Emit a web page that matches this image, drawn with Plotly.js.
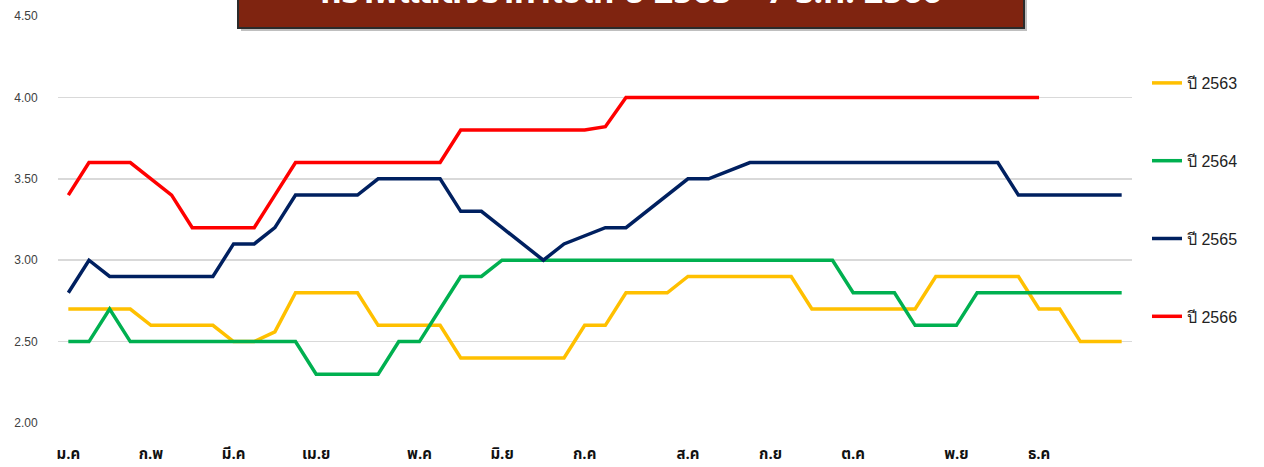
<!DOCTYPE html>
<html>
<head>
<meta charset="utf-8">
<script src="https://cdn.plot.ly/plotly-3.0.1.min.js"></script>
<style>html,body{margin:0;padding:0;background:#fff;}#chart{width:1264px;height:467px;}</style>
</head>
<body>
<div id="chart"></div>
<script>
// week index (category positions)
const weeks = [0,1,2,3,4,5,6,7,8,9,10,11,12,13,14,15,16,17,18,19,20,21,22,23,24,25,26,27,28,29,30,31,32,33,34,35,36,37,38,39,40,41,42,43,44,45,46,47,48,49,50,51];
const monthTickIdx = [0,4,8,12,17,21,25,30,34,38,43,47];
const monthLabels = ["ม.ค","ก.พ","มี.ค","เม.ย","พ.ค","มิ.ย","ก.ค","ส.ค","ก.ย","ต.ค","พ.ย","ธ.ค"];
const seriesNames = ["ปี 2563","ปี 2564","ปี 2565","ปี 2566"];

const y2563 = [2.7,2.7,2.7,2.7, 2.6,2.6,2.6,2.6, 2.5,2.5, 2.56, 2.8,2.8,2.8,2.8, 2.6,2.6,2.6,2.6,
  2.4,2.4,2.4,2.4,2.4,2.4, 2.6,2.6, 2.8,2.8,2.8, 2.9,2.9,2.9,2.9,2.9,2.9, 2.7,2.7,2.7,2.7,2.7,2.7,
  2.9,2.9,2.9,2.9,2.9, 2.7,2.7, 2.5,2.5,2.5];
const y2564 = [2.5,2.5,2.7, 2.5,2.5,2.5,2.5,2.5,2.5,2.5,2.5,2.5, 2.3,2.3,2.3,2.3, 2.5,2.5, 2.7, 2.9,2.9,
  3.0,3.0,3.0,3.0,3.0,3.0,3.0,3.0,3.0,3.0,3.0,3.0,3.0,3.0,3.0,3.0,3.0, 2.8,2.8,2.8, 2.6,2.6,2.6,
  2.8,2.8,2.8,2.8,2.8,2.8,2.8,2.8];
const y2565 = [2.8,3.0, 2.9,2.9,2.9,2.9,2.9,2.9, 3.1,3.1, 3.2, 3.4,3.4,3.4,3.4, 3.5,3.5,3.5,3.5, 3.3,3.3,
  3.2,3.1,3.0,3.1,3.15, 3.2,3.2, 3.3,3.4, 3.5,3.5, 3.55,
  3.6,3.6,3.6,3.6,3.6,3.6,3.6,3.6,3.6,3.6,3.6,3.6,3.6, 3.4,3.4,3.4,3.4,3.4,3.4];
const y2566 = [3.4, 3.6,3.6,3.6, 3.5, 3.4, 3.2,3.2,3.2,3.2, 3.4, 3.6,3.6,3.6,3.6,3.6,3.6,3.6,3.6,
  3.8,3.8,3.8,3.8,3.8,3.8,3.8, 3.82,
  4.0,4.0,4.0,4.0,4.0,4.0,4.0,4.0,4.0,4.0,4.0,4.0,4.0,4.0,4.0,4.0,4.0,4.0,4.0,4.0,4.0];
const yTickVals = [2.0,2.5,3.0,3.5,4.0,4.5];
const yTickText = ["2.00","2.50","3.00","3.50","4.00","4.50"];
const titleText = "กราฟแสดงราคาไข่ไก่ ปี 2563 – 7 ธ.ค. 2566";

const colors = ["#FFC000","#00B050","#002060","#FF0000"];
const allY = [y2563, y2564, y2565, y2566];

const traces = allY.map((ys, k) => ({
  type: 'scatter', mode: 'lines',
  x: weeks.slice(0, ys.length), y: ys,
  name: seriesNames[k], legendgroup: 'g' + k,
  line: {color: colors[k], width: 3.5, shape: 'linear'},
  hoverinfo: 'skip'
}));

const L = 58, R = 132, T = 16, B = 44;
const W = 1264, H = 467;
const pw = W - L - R, ph = H - T - B;
const px2x = p => (p - L) / pw;
const px2y = p => (H - B - p) / ph;

const layout = {
  width: W, height: H,
  margin: {l: L, r: R, t: T, b: B, pad: 0},
  paper_bgcolor: '#ffffff', plot_bgcolor: '#ffffff',
  showlegend: true,
  legend: {
    x: px2x(1147), xanchor: 'left', y: px2y(66), yanchor: 'top',
    font: {family: 'Liberation Sans Narrow, Liberation Sans, Arial, sans-serif', size: 16, color: '#222'},
    tracegroupgap: 54, bgcolor: 'rgba(0,0,0,0)', itemwidth: 30
  },
  xaxis: {
    range: [-0.5, 51.5], tickmode: 'array', tickvals: monthTickIdx, ticktext: monthLabels,
    showgrid: false, zeroline: false, showline: false,
    ticks: 'outside', ticklen: 17, tickcolor: 'rgba(0,0,0,0)',
    tickfont: {family: 'Noto Sans Thai, Noto Sans, DejaVu Sans, sans-serif', size: 15, color: '#111', weight: 'bold'},
    fixedrange: true
  },
  yaxis: {
    range: [2.0, 4.5], tickmode: 'array', tickvals: yTickVals, ticktext: yTickText,
    showgrid: true, gridcolor: '#d9d9d9', gridwidth: 1.5, zeroline: false, showline: false,
    ticks: 'outside', ticklen: 17, tickcolor: 'rgba(0,0,0,0)',
    tickfont: {family: 'Liberation Sans, Arial, sans-serif', size: 12, color: '#404040'},
    fixedrange: true
  },
  shapes: [
    {type: 'rect', xref: 'paper', yref: 'paper', layer: 'above',
     x0: px2x(241), x1: px2x(1027), y0: px2y(31), y1: px2y(-33),
     fillcolor: 'rgba(0,0,0,0.25)', line: {width: 0}},
    {type: 'rect', xref: 'paper', yref: 'paper', layer: 'above',
     x0: px2x(238), x1: px2x(1024), y0: px2y(28), y1: px2y(-33),
     fillcolor: '#7F2410', line: {color: '#2b2b2b', width: 2},
     label: {text: titleText, textposition: 'top center', padding: 2,
       font: {family: 'Noto Sans Thai, Noto Sans, DejaVu Sans, sans-serif', size: 34, color: '#ffffff', weight: 'bold'}}}
  ]
};

Plotly.newPlot('chart', traces, layout, {staticPlot: true, displayModeBar: false});
</script>
</body>
</html>
